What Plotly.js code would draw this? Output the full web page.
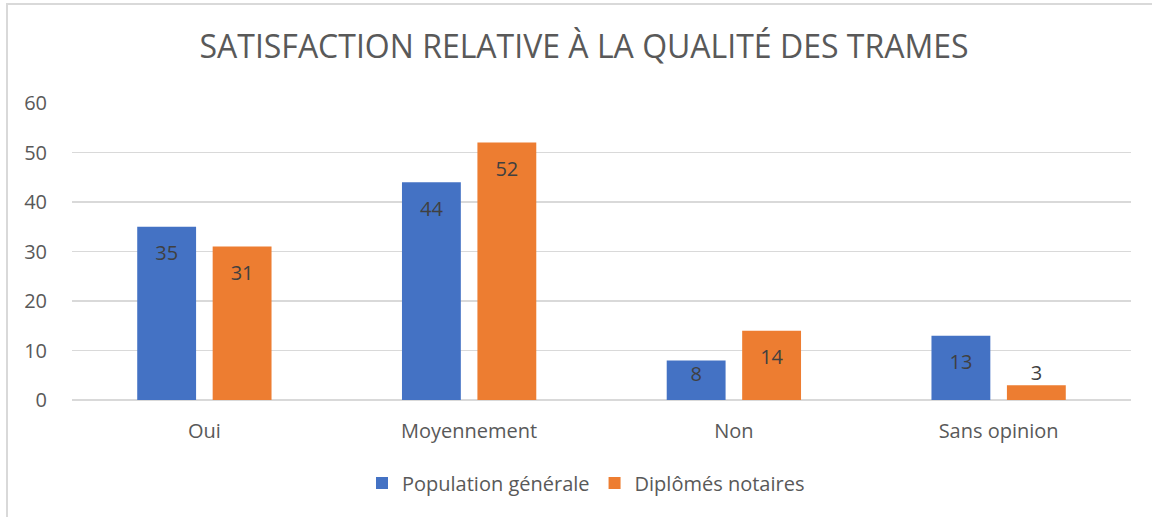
<!DOCTYPE html>
<html>
<head>
<meta charset="utf-8">
<script src="https://cdn.plot.ly/plotly-3.0.1.min.js"></script>
<style>
html,body{margin:0;padding:0;background:#fff;overflow:hidden;}
#chart{position:absolute;left:0;top:0;width:1152px;height:517px;}
#frame{position:absolute;left:6px;top:3px;width:1200px;height:600px;border:2px solid #d9d9d9;pointer-events:none;}
</style>
</head>
<body>
<div id="chart"></div>
<div id="frame"></div>
<script>
const categories = ["Oui", "Moyennement", "Non", "Sans opinion"];
const populationGenerale = [35, 44, 8, 13];
const diplomesNotaires = [31, 52, 14, 3];
const seriesNames = ["Population générale", "Diplômés notaires"];
const yTicks = [0, 10, 20, 30, 40, 50, 60];

const FONT = "'Open Sans', sans-serif";
const colors = ["#4472C4", "#ED7D31"];
const allSeries = [populationGenerale, diplomesNotaires];

const traces = [];
allSeries.forEach((vals, i) => {
  traces.push({
    type: "bar",
    name: seriesNames[i],
    x: categories,
    y: vals,
    marker: {color: colors[i]},
    hoverinfo: "x+y+name"
  });
});
// data labels, grouped the same way as the bars
// (label offset: inside-end for tall bars, squeezed for short ones, outside for tiny ones)
function labelPad(v) { return v < 5 ? 0 : (v < 10 ? 8 : 28); }
allSeries.forEach((vals, i) => {
  traces.push({
    type: "scatter",
    mode: "markers+text",
    x: categories,
    y: vals,
    text: vals.map(String),
    textposition: vals.map(v => v < 5 ? "top center" : "bottom center"),
    textfont: {family: FONT, size: 20, color: "#404040"},
    marker: {size: vals.map(labelPad), color: "rgba(0,0,0,0)", line: {width: 0}},
    showlegend: false,
    hoverinfo: "skip",
    orientation: "v"
  });
});

const layout = {
  width: 1152,
  height: 517,
  margin: {l: 72, r: 21, t: 103, b: 117, autoexpand: false},
  paper_bgcolor: "#fff",
  plot_bgcolor: "#fff",
  font: {family: FONT, color: "#595959"},
  barmode: "group",
  bargap: 0.43,
  bargroupgap: 0.22,
  scattermode: "group",
  scattergap: 0.43,
  title: {
    text: "SATISFACTION RELATIVE À LA QUALITÉ DES TRAMES",
    font: {family: FONT, size: 32, color: "#595959"},
    x: 584/1152, xref: "container", xanchor: "center",
    y: 1 - 47/517, yref: "container", yanchor: "middle"
  },
  xaxis: {
    type: "category",
    showgrid: false,
    showline: false,
    zeroline: false,
    ticks: "outside", ticklen: 13, tickcolor: "rgba(0,0,0,0)",
    tickfont: {family: FONT, size: 20, color: "#595959"}
  },
  yaxis: {
    range: [0, 60],
    tickvals: yTicks,
    ticktext: yTicks.map(String),
    showgrid: true, gridcolor: "#d9d9d9", gridwidth: 1.3,
    zeroline: true, zerolinecolor: "#d9d9d9", zerolinewidth: 1.3,
    showline: false,
    ticks: "outside", ticklen: 20, tickcolor: "rgba(0,0,0,0)",
    tickfont: {family: FONT, size: 20, color: "#595959"}
  },
  showlegend: true,
  legend: {
    orientation: "h",
    x: (586-72)/1059, xanchor: "center",
    y: (400-483)/297, yanchor: "middle",
    font: {family: FONT, size: 20, color: "#595959"},
    traceorder: "normal",
    itemwidth: 30
  }
};

Plotly.newPlot("chart", traces, layout, {displayModeBar: false, staticPlot: true});
</script>
</body>
</html>
